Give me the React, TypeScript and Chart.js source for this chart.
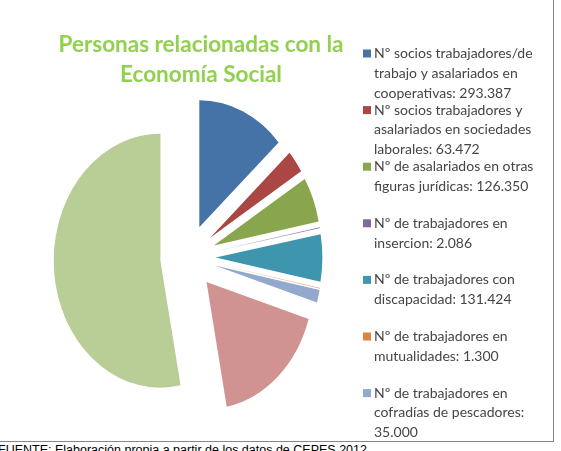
import React, { useEffect, useRef } from 'react';
import { Chart, registerables } from 'chart.js';

Chart.register(...registerables);

// Colectivos de la Economía Social (los dos últimos no figuran en la leyenda)
const categories = [
  'Nº socios trabajadores/de trabajo y asalariados en cooperativas',
  'Nº socios trabajadores y asalariados en sociedades laborales',
  'Nº de asalariados en otras figuras jurídicas',
  'Nº de trabajadores en insercion',
  'Nº de trabajadores con discapacidad',
  'Nº de trabajadores en mutualidades',
  'Nº de trabajadores en cofradías de pescadores',
  'Otras entidades (a)',
  'Otras entidades (b)',
];
const values = [293387, 63472, 126350, 2086, 131424, 1300, 35000, 380000, 1166000];
const sliceColors = [
  '#4572A7', '#AA4643', '#89A54E', '#80699B', '#3D96AE',
  '#DB843D', '#92A8CD', '#D19392', '#B9CD96',
];
const legendCount = 7;
const titleLines = ['Personas relacionadas con la', 'Economía Social'];
const sourceNote = 'FUENTE: Elaboración propia a partir de los datos de CEPES 2012';

const formatMiles = (v: number) => String(v).replace(/\B(?=(\d{3})+(?!\d))/g, '.');

function wrapText(ctx: CanvasRenderingContext2D, text: string, maxWidth: number): string[] {
  const words = text.split(' ');
  const lines: string[] = [];
  let cur = '';
  for (const w of words) {
    const test = cur ? cur + ' ' + w : w;
    if (cur && ctx.measureText(test).width > maxWidth) {
      lines.push(cur);
      cur = w;
    } else {
      cur = test;
    }
  }
  if (cur) lines.push(cur);
  return lines;
}

// Pie drawn as an ellipse with every slice pulled out from the centre
const explodedPie = {
  id: 'explodedPie',
  beforeDatasetsDraw(chart: any, _args: any, opts: any) {
    const meta = chart.getDatasetMeta(0);
    const ctx: CanvasRenderingContext2D = chart.ctx;
    const first = meta.data[0];
    if (!first) return;
    const cx = first.x;
    const cy = first.y;
    ctx.save();
    ctx.translate(cx, cy);
    ctx.scale(opts.scaleX, 1);
    ctx.translate(-cx, -cy);
    meta.data.forEach((arc: any) => {
      const mid = (arc.startAngle + arc.endAngle) / 2;
      ctx.save();
      ctx.translate(Math.cos(mid) * opts.explode, Math.sin(mid) * opts.explode);
      arc.draw(ctx);
      ctx.restore();
    });
    ctx.restore();
    return false;
  },
};

// Title and wrapped side legend
const sideText = {
  id: 'sideText',
  afterDraw(chart: any, _args: any, opts: any) {
    const ctx: CanvasRenderingContext2D = chart.ctx;
    ctx.save();
    ctx.textAlign = 'center';
    ctx.textBaseline = 'alphabetic';
    ctx.fillStyle = opts.titleColor;
    ctx.font = opts.titleFont;
    titleLines.forEach((t, k) => {
      ctx.fillText(t, opts.titleX, opts.titleY + k * opts.titleLineHeight);
    });

    ctx.textAlign = 'left';
    ctx.textBaseline = 'middle';
    ctx.font = opts.legendFont;
    const labels = chart.data.labels as string[];
    const data = chart.data.datasets[0].data as number[];
    const bg = chart.data.datasets[0].backgroundColor as string[];
    for (let i = 0; i < legendCount; i++) {
      const text = `${labels[i]}: ${formatMiles(data[i])}`;
      const lines = wrapText(ctx, text, opts.legendMaxWidth);
      const y0 = opts.legendTop + i * opts.itemPitch;
      ctx.fillStyle = bg[i];
      ctx.fillRect(opts.legendX, y0 - 4, 8, 8);
      ctx.fillStyle = opts.legendColor;
      lines.forEach((ln, k) => {
        ctx.fillText(ln, opts.legendX + 11, y0 + k * opts.lineHeight);
      });
    }
    ctx.restore();
  },
};

export default function App() {
  const canvasRef = useRef<HTMLCanvasElement | null>(null);

  useEffect(() => {
    if (!canvasRef.current) return;
    const chart = new Chart(canvasRef.current, {
      type: 'pie',
      data: {
        labels: categories,
        datasets: [
          {
            data: values,
            backgroundColor: sliceColors,
            borderWidth: 0,
          },
        ],
      },
      options: {
        responsive: false,
        animation: false,
        events: [],
        radius: 127,
        layout: { padding: { left: 0, right: 177, top: 80, bottom: 6 } },
        plugins: {
          legend: { display: false },
          title: { display: false },
          tooltip: { enabled: false },
          explodedPie: { scaleX: 0.84, explode: 33 },
          sideText: {
            titleColor: '#92D050',
            titleFont: 'bold 22.5px Lato, "Open Sans", sans-serif',
            titleX: 201,
            titleY: 52,
            titleLineHeight: 30,
            legendFont: '14px Lato, "Open Sans", sans-serif',
            legendColor: '#454545',
            legendX: 363,
            legendTop: 53.5,
            itemPitch: 56.6,
            lineHeight: 19.8,
            legendMaxWidth: 172,
          },
        } as any,
      },
      plugins: [explodedPie, sideText],
    });
    return () => chart.destroy();
  }, []);

  return (
    <div
      style={{
        position: 'fixed',
        left: 0,
        top: 0,
        width: 561,
        height: 451,
        background: '#ffffff',
        overflow: 'hidden',
      }}
    >
      <div
        style={{
          position: 'absolute',
          left: 0,
          top: 0,
          width: 553,
          height: 441,
          borderRight: '1px solid #878787',
          borderBottom: '1px solid #878787',
        }}
      >
        <canvas ref={canvasRef} width={553} height={441} style={{ display: 'block' }} />
      </div>
      <div
        style={{
          position: 'absolute',
          left: -2,
          top: 443,
          font: '12.5px "Liberation Sans", Arial, sans-serif',
          color: '#000000',
          whiteSpace: 'nowrap',
        }}
      >
        {sourceNote}
      </div>
    </div>
  );
}
